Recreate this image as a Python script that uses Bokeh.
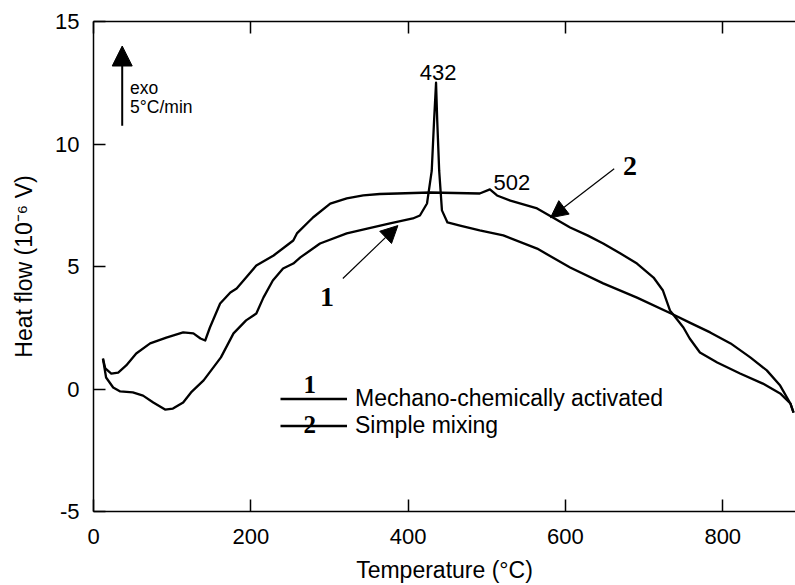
from bokeh.plotting import figure
from bokeh.models import (Range1d, LinearAxis, FixedTicker, Arrow, NormalHead,
                          Label, Legend, LegendItem, CustomLabelingPolicy)
from bokeh.embed import file_html
from bokeh.resources import INLINE

# ---- data ----
temp_1 = [12, 16, 25, 34, 50, 63, 76, 91, 101, 114,
          124, 140, 162, 178, 194, 207, 216, 228, 241, 254,
          263, 288, 322, 348, 377, 406, 415, 424, 430, 433,
          435.5, 437, 439.5, 443, 450, 466, 491, 521, 564, 606,
          648, 691, 737, 758, 784, 810, 835, 856, 873, 886, 890]
heat_1 = [1.24, 0.47, 0.06, -0.10, -0.14, -0.27, -0.55, -0.84, -0.80, -0.55,
          -0.14, 0.35, 1.29, 2.27, 2.80, 3.08, 3.73, 4.43, 4.92, 5.12,
          5.37, 5.94, 6.35, 6.55, 6.76, 6.96, 7.08, 7.57, 8.9, 10.96,
          12.5, 10.96, 8.9, 7.29, 6.80, 6.67, 6.47, 6.27, 5.73, 4.96,
          4.31, 3.73, 3.04, 2.71, 2.31, 1.86, 1.29, 0.76, 0.14, -0.59, -0.96]

temp_2 = [12, 15, 22.6, 31.4, 41.6, 54.3, 72, 92.6, 114, 127,
          136, 142, 148, 161, 174, 182, 194, 207, 229, 254,
          258.6, 279, 301, 322, 343, 364, 386, 428, 491, 504, 513, 530,
          564, 584, 606, 628, 648, 670, 691, 712, 724, 733,
          737, 750, 758, 771, 793, 822, 851, 873, 886, 890]
heat_2 = [1.24, 0.84, 0.63, 0.67, 0.96, 1.45, 1.86, 2.10, 2.31, 2.27,
          2.06, 1.98, 2.51, 3.49, 3.94, 4.10, 4.55, 5.04, 5.45, 6.06,
          6.35, 7.0, 7.57, 7.78, 7.90, 7.96, 7.98, 8.02, 7.98, 8.15, 7.90, 7.69,
          7.37, 7.0, 6.59, 6.27, 5.94, 5.53, 5.12, 4.55, 4.02, 3.2,
          3.04, 2.51, 2.06, 1.49, 1.08, 0.63, 0.22, -0.18, -0.59, -0.96]

x_ticks = [0, 200, 400, 600, 800]
y_ticks = [-5, 0, 5, 10, 15]
series_names = ["Mechano-chemically activated", "Simple mixing"]
peak_labels = ["432", "502"]

FONT = "Liberation Sans"
SERIF = "Liberation Serif"
TICK_FS = "22px"
LABEL_FS = "23px"

p = figure(width=795, height=585, output_backend="svg", toolbar_location=None,
           x_range=Range1d(0, 892.5), y_range=Range1d(-5, 15),
           min_border_left=93, min_border_right=0, min_border_top=21,
           min_border_bottom=74, x_axis_label="Temperature (°C)",
           y_axis_label="Heat flow (10⁻⁶ V)")
p.outline_line_color = None
p.grid.visible = False
p.background_fill_color = "white"
p.border_fill_color = "white"

for ax in p.xaxis:
    ax.ticker = FixedTicker(ticks=x_ticks)
for ax in p.yaxis:
    ax.ticker = FixedTicker(ticks=y_ticks)
    ax.major_label_overrides = {t: str(t) for t in y_ticks}

for ax in list(p.xaxis) + list(p.yaxis):
    ax.major_tick_in = 12
    ax.major_tick_out = 0
    ax.minor_tick_line_color = None
    ax.axis_line_width = 1.5
    ax.major_tick_line_width = 1.5
    ax.axis_line_color = "black"
    ax.major_tick_line_color = "black"
    ax.major_label_text_font = FONT
    ax.major_label_text_font_size = TICK_FS
    ax.major_label_text_color = "black"
    ax.axis_label_text_font = FONT
    ax.axis_label_text_font_size = LABEL_FS
    ax.axis_label_text_font_style = "normal"
    ax.axis_label_text_color = "black"

p.xaxis.major_label_standoff = 17
p.xaxis.axis_label_standoff = 10
p.yaxis.major_label_standoff = 14
p.yaxis.axis_label_standoff = 15

hide_all = CustomLabelingPolicy(code="""
    for (const i of [...indices]) indices.unset(i)
    return indices
""")
top = LinearAxis(ticker=FixedTicker(ticks=x_ticks), major_tick_in=12, major_tick_out=0,
                 minor_tick_line_color=None, axis_line_width=1.5, major_tick_line_width=1.5,
                 major_label_policy=hide_all, major_label_standoff=0)
p.add_layout(top, "above")

r1 = p.line(temp_1, heat_1, line_color="black", line_width=2.3, line_join="round")
r2 = p.line(temp_2, heat_2, line_color="black", line_width=2.3, line_join="round")

legend = Legend(items=[LegendItem(label=series_names[0], renderers=[r1]),
                       LegendItem(label=series_names[1], renderers=[r2])],
                location=(187, 72), glyph_width=67, glyph_height=27, label_height=27,
                spacing=0, padding=0, margin=0, label_standoff=8,
                border_line_color=None, background_fill_alpha=0,
                label_text_font=FONT, label_text_font_size=LABEL_FS, label_text_color="black")
p.add_layout(legend)

# legend numbers
p.add_layout(Label(x=275, y=0.18, text="1", text_font=SERIF, text_font_style="bold",
                   text_font_size="25px", text_align="center", text_baseline="middle",
                   text_color="black"))
p.add_layout(Label(x=275, y=-1.45, text="2", text_font=SERIF, text_font_style="bold",
                   text_font_size="25px", text_align="center", text_baseline="middle",
                   text_color="black"))

# exo arrow and text
p.add_layout(Arrow(end=NormalHead(size=20, fill_color="black", line_color="black"),
                   x_start=36.5, y_start=10.75, x_end=36.5, y_end=14.0,
                   line_width=2, line_color="black"))
p.add_layout(Label(x=46.5, y=12.27, text="exo", text_font=FONT, text_font_size="17.5px",
                   text_baseline="alphabetic", text_color="black"))
p.add_layout(Label(x=46.5, y=11.49, text="5°C/min", text_font=FONT, text_font_size="17.5px",
                   text_baseline="alphabetic", text_color="black"))

# peak labels
p.add_layout(Label(x=438, y=12.92, text=peak_labels[0], text_font=FONT, text_font_size=TICK_FS,
                   text_align="center", text_baseline="alphabetic", text_color="black"))
p.add_layout(Label(x=532, y=8.43, text=peak_labels[1], text_font=FONT, text_font_size=TICK_FS,
                   text_align="center", text_baseline="alphabetic", text_color="black"))

# curve number labels and arrows
p.add_layout(Label(x=297, y=3.74, text="1", text_font=SERIF, text_font_style="bold",
                   text_font_size="28px", text_align="center", text_baseline="alphabetic",
                   text_color="black"))
p.add_layout(Label(x=682, y=9.12, text="2", text_font=SERIF, text_font_style="bold",
                   text_font_size="28px", text_align="center", text_baseline="alphabetic",
                   text_color="black"))
p.add_layout(Arrow(end=NormalHead(size=17, fill_color="black", line_color="black"),
                   x_start=317, y_start=4.51, x_end=387, y_end=6.67,
                   line_width=1.2, line_color="black"))
p.add_layout(Arrow(end=NormalHead(size=17, fill_color="black", line_color="black"),
                   x_start=662, y_start=8.99, x_end=581, y_end=6.99,
                   line_width=1.2, line_color="black"))

open("out.html", "w").write(file_html(p, INLINE))
